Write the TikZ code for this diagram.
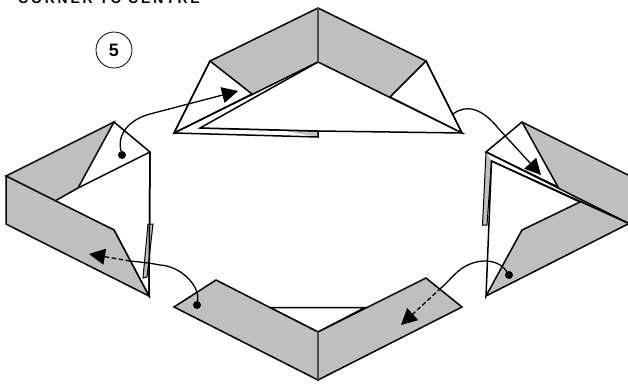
\documentclass[tikz,border=0pt]{standalone}
\usepackage{fontspec}
\setmainfont{Liberation Sans}
\newfontfamily\titlefont[LetterSpace=20]{Liberation Sans}
\usetikzlibrary{arrows.meta}
\definecolor{foldgray}{RGB}{191,191,191}
\tikzset{
    edge/.style={draw=black, line width=1.5pt, line join=miter},
    fold/.style={edge, fill=foldgray},
    flap/.style={edge, fill=white},
    sliver/.style={draw=black, line width=1pt, line join=miter, fill=foldgray},
    crease/.style={draw=black!70, line width=1.2pt},
    movedot/.style={fill=black, circle, inner sep=0pt, minimum size=8pt},
    moveline/.style={line width=1.3pt, line cap=round},
    movehead/.style={line width=1.3pt, dash pattern=on 4.5pt off 2.5pt, -{Triangle[length=16pt,width=16pt]}},
}
\begin{document}
\begin{tikzpicture}[x=1pt,y=-1pt]
    \useasboundingbox (0,0) rectangle (628,383);
    \clip (0,0) rectangle (628,383);

    % Heading and step number
    \node[anchor=base west, inner sep=0pt, font=\titlefont\bfseries\fontsize{14}{14}\selectfont] (heading) at (18,3.5) {CORNER TO CENTRE};
    \node[draw, circle, line width=0.8pt, minimum size=36pt, inner sep=0pt, font=\bfseries\fontsize{18}{18}\selectfont] (stepnum) at (114,50) {5};

    % Top model
    \fill[foldgray] (210,61) -- (318,8) -- (426,61) -- (390,97) -- (318,62) -- (252,94) -- cycle;
    \draw[flap] (174,133) -- (210,61) -- (252,94) -- cycle;
    \draw[flap] (462,133) -- (426,61) -- (390,97) -- cycle;
    \fill[foldgray] (280,130) -- (318,131) -- (318,137) -- cycle;
    \draw[edge] (174,133) -- (318,137) -- (318,131) -- (200,128);
    \draw[flap] (200,128) -- (318,62) -- (462,133) -- (318,131) -- cycle;
    \draw[edge] (174,133) -- (318,62);
    \draw[edge] (174,133) -- (210,61) -- (318,8) -- (426,61) -- (462,133);
    \draw[crease] (318,8) -- (318,62);

    % Right model
    \fill[foldgray] (522,122) -- (632,177) -- (632,222) -- (486,296) -- (522,230) -- (580,202) -- (558,187) -- cycle;
    \draw[flap] (486,152) -- (522,122) -- (558,187) -- cycle;
    \draw[sliver] (486,152) -- (482.5,225) -- (487,225) -- (491.5,161);
    \draw[flap] (491.5,161) -- (580,202) -- (522,230) -- (486,296) -- cycle;
    \draw[edge] (486,152) -- (632,225);
    \draw[edge] (491.5,161) -- (632,225);
    \draw[edge] (522,122) -- (632,177);
    \draw[edge] (486,296) -- (632,222);

    % Left model
    \draw[flap] (114,122) -- (150,152) -- (149,296) -- (114,230) -- (55,201) -- cycle;
    \draw[sliver] (148,224) -- (153,224) -- (147,277) -- (143,278) -- cycle;
    \draw[edge] (150,152) -- (149,296);
    \draw[fold] (6,176) -- (114,122) -- (78,188) -- (55,201) -- cycle;
    \draw[edge] (78,188) -- (150,152);
    \draw[fold] (6,176) -- (114,230) -- (149,296) -- (6,224) -- cycle;

    % Bottom model
    \draw[flap] (270,307.5) -- (365,307.5) -- (318,332) -- cycle;
    \draw[fold] (174,307) -- (216,280) -- (318,332) -- (318,380) -- cycle;
    \draw[fold] (462,307) -- (426,278) -- (318,332) -- (318,380) -- cycle;
    \draw[crease] (318,332) -- (318,380);

    % Start dots and ends of the moves
    \node[movedot] (dotone) at (122,155) {};
    \node[movedot] (dotthree) at (509,275) {};
    \node[movedot] (dotfour) at (197,305) {};
    \coordinate (startone) at (453,114);
    \coordinate (headone) at (238,91);
    \coordinate (headtwo) at (541,175);
    \coordinate (bendthree) at (441,288);
    \coordinate (headthree) at (401,325);
    \coordinate (bendfour) at (130,261);
    \coordinate (headfour) at (89,254);

    % Moves
    \draw[moveline, -{Triangle[length=16pt,width=16pt]}] (dotone) .. controls (117,135) and (128,120) .. (150,114) -- (headone);
    \draw[moveline, -{Triangle[length=16pt,width=16pt]}] (startone) .. controls (466,104) and (482,108) .. (498,128) -- (headtwo);
    \draw[moveline] (dotthree) .. controls (498,258) and (476,258) .. (461,269) .. controls (453,275) and (448,282) .. (bendthree);
    \draw[movehead] (bendthree) -- (headthree);
    \draw[moveline] (dotfour) .. controls (200,285) and (180,266) .. (160,265) .. controls (150,263) and (140,262) .. (bendfour);
    \draw[movehead] (bendfour) -- (headfour);
\end{tikzpicture}
\end{document}
